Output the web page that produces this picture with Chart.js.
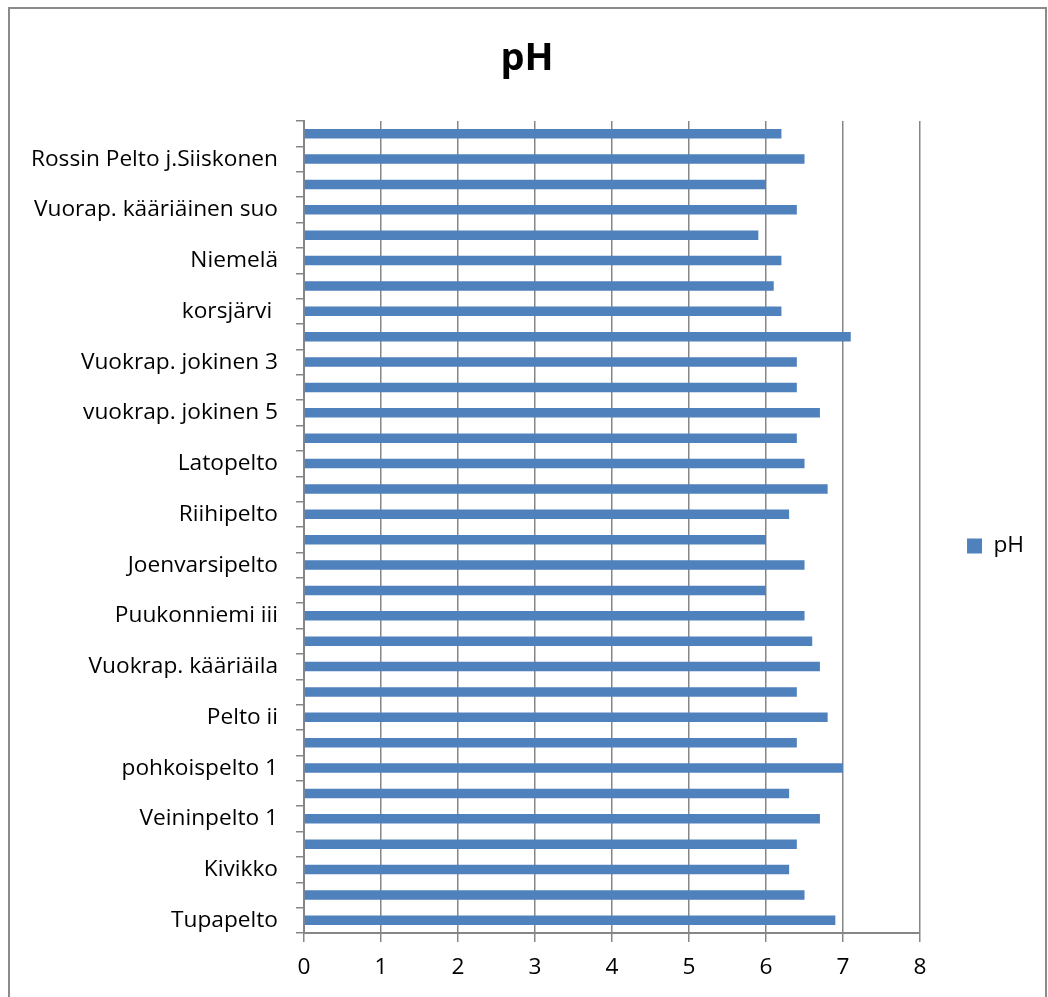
<!DOCTYPE html>
<html>
<head>
<meta charset="utf-8">
<script src="https://cdn.jsdelivr.net/npm/chart.js@4/dist/chart.umd.min.js"></script>
<style>
  html, body { margin: 0; padding: 0; background: #fff; overflow: hidden; }
  #frame { position: absolute; left: 8px; top: 7px; width: 1039px; height: 1010px; box-sizing: border-box; border: 2px solid #8a8a8a; }
  #wrap { position: absolute; left: 0; top: 0; width: 1048px; height: 997px; }
</style>
</head>
<body>
<div id="frame"></div>
<div id="wrap"><canvas id="c"></canvas></div>
<script>
// Categories, bottom to top (Excel order); unlabeled categories are hidden by the source chart
const categories = [
  'Tupapelto', '', 'Kivikko', '', 'Veininpelto 1', '', 'pohkoispelto 1', '',
  'Pelto ii', '', 'Vuokrap. kääriäila', '', 'Puukonniemi iii', '', 'Joenvarsipelto', '',
  'Riihipelto', '', 'Latopelto', '', 'vuokrap. jokinen 5', '', 'Vuokrap. jokinen 3', '',
  'korsjärvi ', '', 'Niemelä', '', 'Vuorap. kääriäinen suo', '', 'Rossin Pelto j.Siiskonen', ''
];
const phValues = [
  6.9, 6.5, 6.3, 6.4, 6.7, 6.3, 7.0, 6.4,
  6.8, 6.4, 6.7, 6.6, 6.5, 6.0, 6.5, 6.0,
  6.3, 6.8, 6.5, 6.4, 6.7, 6.4, 6.4, 7.1,
  6.2, 6.1, 6.2, 5.9, 6.4, 6.0, 6.5, 6.2
];
const seriesName = 'pH';
const xTicks = [0, 1, 2, 3, 4, 5, 6, 7, 8];

const FONT = "'Open Sans', sans-serif";
const GRID = '#868686';
const LBL = 22.7;

new Chart(document.getElementById('c'), {
  type: 'bar',
  data: {
    labels: categories,
    datasets: [{
      label: seriesName,
      data: phValues,
      backgroundColor: '#4F81BD',
      borderWidth: 0,
      barPercentage: 0.37,
      categoryPercentage: 1.0
    }]
  },
  options: {
    indexAxis: 'y',
    responsive: true,
    maintainAspectRatio: false,
    animation: false,
    devicePixelRatio: 1,
    layout: { padding: { left: 20, right: 14, top: 0, bottom: 0 } },
    plugins: {
      tooltip: { enabled: false },
      title: {
        display: true,
        text: 'pH',
        color: '#000',
        font: { family: FONT, size: 38, weight: 'bold' },
        padding: { top: 36, bottom: 39.4 }
      },
      legend: {
        display: true,
        position: 'right',
        fullSize: false,
        title: { display: true, text: ' ', font: { size: 10 }, padding: { top: 26, bottom: 0 } },
        labels: {
          color: '#000',
          font: { family: FONT, size: LBL },
          boxWidth: 15,
          boxHeight: 15,
          padding: 47
        }
      }
    },
    scales: {
      x: {
        min: 0,
        max: 8,
        afterBuildTicks: (s) => { s.ticks = xTicks.map(v => ({ value: v })); },
        afterFit: (s) => { s.height = 64; },
        ticks: { color: '#000', font: { family: FONT, size: LBL }, padding: 12 },
        grid: { color: GRID, lineWidth: 1.5, tickLength: 9, drawTicks: true },
        border: { display: true, color: GRID, width: 2 }
      },
      y: {
        reverse: true,
        afterFit: (s) => { s.width = 304 - 20; },
        ticks: { color: '#000', font: { family: FONT, size: LBL }, padding: 18, autoSkip: false },
        grid: { display: true, drawOnChartArea: false, drawTicks: true, tickLength: 8, offset: true, color: GRID, lineWidth: 1.5 },
        border: { display: true, color: GRID, width: 2 }
      }
    }
  }
});
</script>
</body>
</html>
